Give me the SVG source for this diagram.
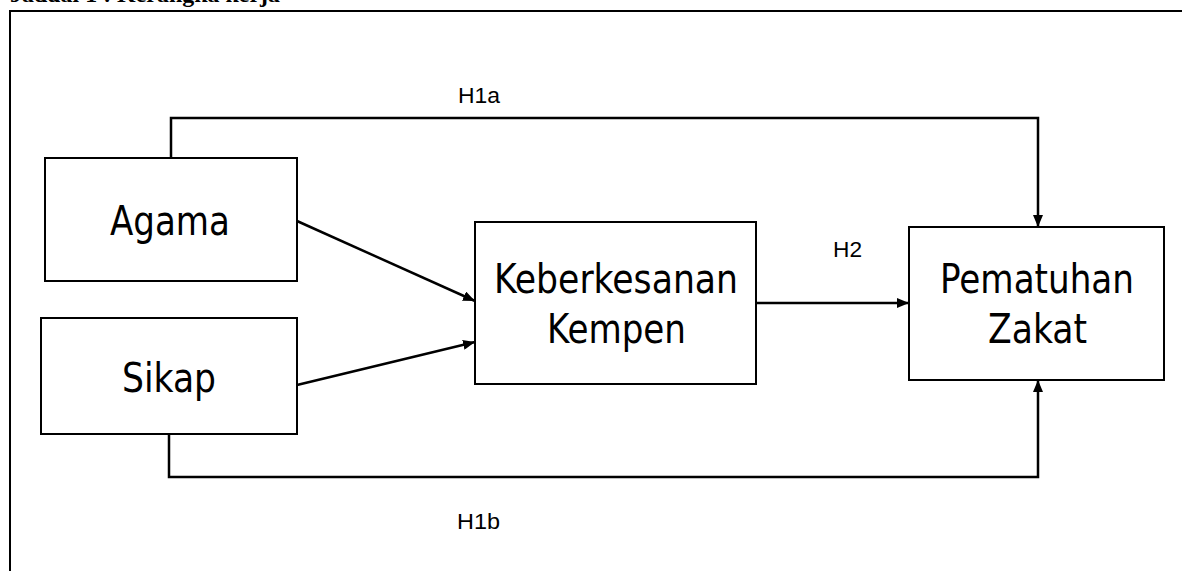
<svg xmlns="http://www.w3.org/2000/svg" width="1182" height="571" viewBox="0 0 1182 571">
<style>
.node rect{fill:#fff;stroke:#000;stroke-width:2}
.node text{font-family:"DejaVu Sans Condensed","DejaVu Sans",Tahoma,sans-serif;font-size:40px;fill:#000;text-anchor:middle}
.lbl{font-family:"Liberation Sans",Arial,sans-serif;font-size:22px;fill:#000}
.conn{fill:none;stroke:#000;stroke-width:2.5}
.title{font-family:"Liberation Serif","Times New Roman",serif;font-weight:bold;font-size:24px;fill:#000}
</style>
<defs>
<marker id="arr" viewBox="0 0 12 10" refX="12" refY="5" markerWidth="12" markerHeight="10" markerUnits="userSpaceOnUse" orient="auto">
<path d="M0,0 L12,5 L0,10 z" fill="#000"/>
</marker>
</defs>
<rect width="1182" height="571" fill="#fff"/>
<text class="title" x="10" y="2" textLength="270" lengthAdjust="spacingAndGlyphs">Jadual 1 : Kerangka kerja</text>
<path d="M10,571 L10,11 L1182,11" fill="none" stroke="#000" stroke-width="2"/>
<g id="connectors">
<path class="conn" d="M171,158 L171,118 L1038,118 L1038,227" marker-end="url(#arr)"/>
<path class="conn" d="M169,434 L169,477 L1038,477 L1038,380" marker-end="url(#arr)"/>
<path class="conn" d="M297,221 L475,301" marker-end="url(#arr)"/>
<path class="conn" d="M297,385 L475,342" marker-end="url(#arr)"/>
<path class="conn" d="M756,303 L909,303" marker-end="url(#arr)"/>
<text class="lbl" x="458" y="103" textLength="42" lengthAdjust="spacingAndGlyphs">H1a</text>
<text class="lbl" x="457" y="529" textLength="43" lengthAdjust="spacingAndGlyphs">H1b</text>
<text class="lbl" x="833" y="257" textLength="29" lengthAdjust="spacingAndGlyphs">H2</text>
</g>
<g id="agama" class="node">
<rect x="45" y="158" width="252" height="123"/>
<text x="170" y="235" textLength="120" lengthAdjust="spacingAndGlyphs">Agama</text>
</g>
<g id="sikap" class="node">
<rect x="41" y="318" width="256" height="116"/>
<text x="169" y="392" textLength="94" lengthAdjust="spacingAndGlyphs">Sikap</text>
</g>
<g id="keberkesanan" class="node">
<rect x="475" y="222" width="281" height="162"/>
<text x="616" y="293" textLength="244" lengthAdjust="spacingAndGlyphs">Keberkesanan</text>
<text x="616.5" y="343" textLength="139" lengthAdjust="spacingAndGlyphs">Kempen</text>
</g>
<g id="pematuhan" class="node">
<rect x="909" y="227" width="255" height="153"/>
<text x="1037" y="293" textLength="194" lengthAdjust="spacingAndGlyphs">Pematuhan</text>
<text x="1037.5" y="343" textLength="99" lengthAdjust="spacingAndGlyphs">Zakat</text>
</g>
</svg>
